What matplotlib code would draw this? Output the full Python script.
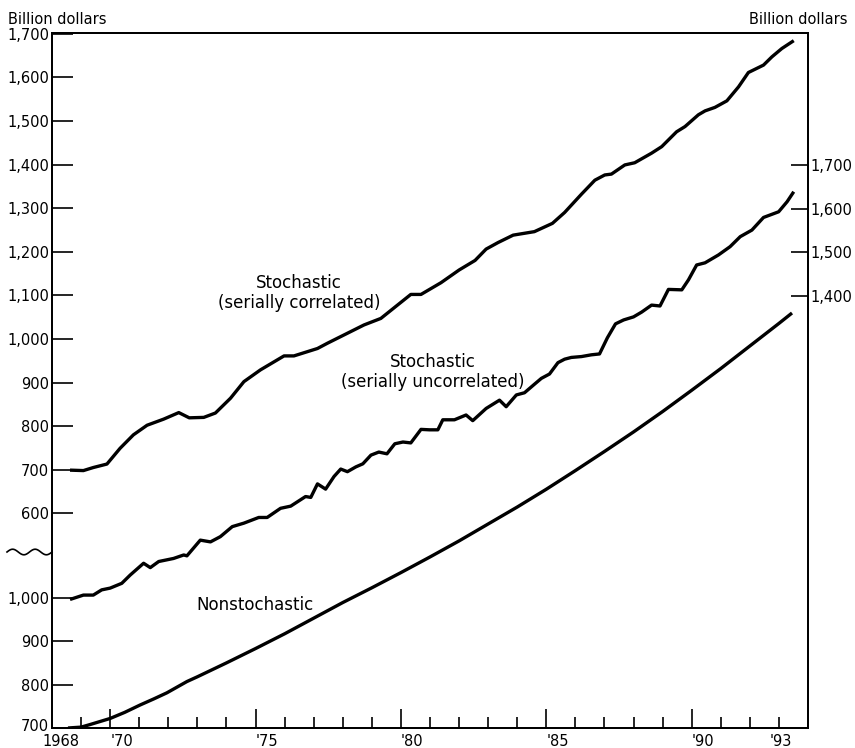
import numpy as np
import matplotlib
matplotlib.use("Agg")
import matplotlib.pyplot as plt
from matplotlib.transforms import ScaledTranslation

# Stochastic, serially correlated errors (left upper scale)
corr_years = [1968.62, 1969.08, 1969.42, 1969.89, 1970.34, 1970.80, 1971.27, 1971.84,
              1972.36, 1972.72, 1973.22, 1973.62, 1974.14, 1974.60, 1975.17, 1975.98,
              1976.32, 1977.13, 1977.47, 1978.16, 1978.73, 1979.31, 1979.89, 1980.34,
              1980.69, 1981.38, 1982.00, 1982.55, 1982.93, 1983.34, 1983.86, 1984.59,
              1985.21, 1985.63, 1986.21, 1986.67, 1987.01, 1987.24, 1987.70, 1988.04,
              1988.62, 1988.97, 1989.48, 1989.77, 1990.23, 1990.46, 1990.80, 1991.21,
              1991.61, 1991.95, 1992.47, 1992.76, 1993.10, 1993.51]
corr_vals = [699, 698, 705, 713, 749, 780, 802, 816,
             831, 819, 820, 830, 864, 902, 929, 961,
             961, 978, 990, 1013, 1032, 1047, 1078, 1102,
             1102, 1129, 1158, 1180, 1206, 1221, 1238, 1246,
             1265, 1290, 1332, 1364, 1376, 1378, 1399, 1404,
             1426, 1441, 1475, 1487, 1514, 1523, 1531, 1546,
             1578, 1611, 1628, 1647, 1666, 1684]

# Stochastic, serially uncorrelated errors (right scale)
uncorr_years = [1968.62, 1969.08, 1969.42, 1969.71, 1970.00, 1970.40, 1970.69, 1971.15,
                1971.38, 1971.67, 1972.18, 1972.53, 1972.64, 1973.10, 1973.45, 1973.79,
                1974.20, 1974.60, 1975.11, 1975.40, 1975.86, 1976.21, 1976.72, 1976.90,
                1977.13, 1977.41, 1977.70, 1977.93, 1978.16, 1978.45, 1978.69, 1978.97,
                1979.24, 1979.52, 1979.79, 1980.07, 1980.34, 1980.69, 1980.98, 1981.27,
                1981.44, 1981.84, 1982.24, 1982.47, 1982.93, 1983.39, 1983.62, 1983.97,
                1984.25, 1984.60, 1984.83, 1985.11, 1985.40, 1985.63, 1985.86, 1986.21,
                1986.55, 1986.83, 1987.10, 1987.38, 1987.66, 1988.00, 1988.28, 1988.62,
                1988.91, 1989.20, 1989.66, 1989.89, 1990.17, 1990.46, 1990.92, 1991.32,
                1991.67, 1992.07, 1992.47, 1992.99, 1993.28, 1993.51]
uncorr_vals = [704, 714, 714, 726, 730, 741, 760, 787,
               777, 791, 798, 806, 804, 840, 836, 848,
               871, 879, 892, 892, 913, 918, 940, 938,
               969, 957, 986, 1003, 997, 1008, 1015, 1035,
               1042, 1038, 1061, 1065, 1063, 1094, 1093, 1093,
               1116, 1116, 1127, 1114, 1142, 1161, 1146, 1173,
               1178, 1198, 1211, 1221, 1247, 1255, 1259, 1261,
               1265, 1267, 1304, 1336, 1345, 1352, 1363, 1379,
               1377, 1415, 1414, 1437, 1471, 1476, 1494, 1513,
               1536, 1551, 1580, 1593, 1616, 1639]

# Nonstochastic solution (left lower scale)
base_years = [1968.55, 1969.00, 1969.31, 1970.00, 1970.50, 1971.03, 1971.50, 1971.95,
              1972.64, 1973.00, 1974.00, 1975.00, 1976.00, 1977.00, 1978.00, 1979.00,
              1980.00, 1981.00, 1982.00, 1983.00, 1984.00, 1985.00, 1986.00, 1987.00,
              1988.00, 1989.00, 1990.00, 1991.00, 1992.00, 1993.00, 1993.45]
base_vals = [700, 702, 708, 722, 736, 753, 767, 781,
             807, 818, 850, 883, 917, 953, 989, 1023,
             1058, 1094, 1131, 1170, 1209, 1250, 1293, 1337,
             1382, 1429, 1478, 1528, 1580, 1632, 1656]

left_upper_ticks = [600, 700, 800, 900, 1000, 1100, 1200, 1300, 1400, 1500, 1600, 1700]
left_lower_ticks = [700, 800, 900, 1000]
right_ticks = [1400, 1500, 1600, 1700]
year_ticks = [1968, 1970, 1975, 1980, 1985, 1990, 1993]
year_labels = ["1968", "'70", "'75", "'80", "'85", "'90", "'93"]

plt.rcParams['font.family'] = ['DejaVu Sans']
FS = 10.5
LFS = 12
LW = 2.4

fig = plt.figure(figsize=(8.55, 7.48), dpi=100)
ax = fig.add_axes([52 / 855, 20 / 748, 756 / 855, 695 / 748])
ax_up = ax.twinx()
ax_rt = ax.twinx()

ax.set_xlim(1968, 1994)
ax.set_ylim(700, 2301)
ax_up.set_ylim(107.6, 1701.6)
ax_rt.set_ylim(409.2, 2003)

ax.plot(base_years, base_vals, color='black', lw=LW, solid_capstyle='butt')
ax_up.plot(corr_years, corr_vals, color='black', lw=LW, solid_capstyle='butt')
ax_rt.plot(uncorr_years, uncorr_vals, color='black', lw=LW, solid_capstyle='butt')

def fmt(v):
    return f"{v:,}"

for a in (ax, ax_up, ax_rt):
    for s in a.spines.values():
        s.set_linewidth(1.2)

ax.set_yticks(left_lower_ticks)
ax.set_yticklabels([fmt(v) for v in left_lower_ticks])
ax.tick_params(axis='y', direction='in', length=15, width=1.2, labelsize=FS, pad=2)
# lift the bottom label a little so it clears the year labels
low = ax.yaxis.get_major_ticks()[0].label1
low.set_transform(low.get_transform() + ScaledTranslation(0, 2 / 72, fig.dpi_scale_trans))

ax_up.yaxis.tick_left()
ax_up.set_yticks(left_upper_ticks)
ax_up.set_yticklabels([fmt(v) for v in left_upper_ticks])
ax_up.tick_params(axis='y', direction='in', length=15, width=1.2, labelsize=FS, pad=2,
                  left=True, labelleft=True, right=False, labelright=False)

ax_rt.set_yticks(right_ticks)
ax_rt.set_yticklabels([fmt(v) for v in right_ticks])
ax_rt.tick_params(axis='y', direction='in', length=12, width=1.2, labelsize=FS, pad=2)

ax.set_xticks(year_ticks)
ax.set_xticklabels(year_labels, ha='left')
ax.set_xticks(np.arange(1969, 1994), minor=True)
ax.tick_params(axis='x', which='major', direction='in', length=14, width=1.2,
               labelsize=FS, pad=4)
ax.tick_params(axis='x', which='minor', direction='in', length=8, width=1.2)
xt = ax.xaxis.get_major_ticks()
xt[0].tick1line.set_markersize(0)
xt[-1].tick1line.set_markersize(8)
for t in (xt[0], xt[-1]):
    lab = t.label1
    lab.set_transform(lab.get_transform() + ScaledTranslation(-7 / 72, 0, fig.dpi_scale_trans))

# unit captions
fig.text(8 / 855, 1 - 19 / 748, "Billion dollars", fontsize=FS, va='center', ha='left')
fig.text(847 / 855, 1 - 20 / 748, "Billion dollars", fontsize=FS, va='center', ha='right')

# scale break on the left axis
bx = np.linspace(-45 / 756, 0, 60)
by = (728 - 552) / 695 + 0.004 * np.sin((bx - bx[0]) / (bx[-1] - bx[0]) * 4 * np.pi)
ax.plot(bx, by, color='black', lw=1.2, transform=ax.transAxes, clip_on=False)

# curve labels
ax_up.text(1976.5, 1700 - (283 - 33.7) / 0.436, "Stochastic", fontsize=LFS, ha='center', va='center')
ax_up.text(1976.5, 1700 - (303 - 33.7) / 0.436, "(serially correlated)", fontsize=LFS,
           ha='center', va='center')
ax_rt.text(1981.1, 1400 - (362 - 296) / 0.436, "Stochastic", fontsize=LFS, ha='center', va='center')
ax_rt.text(1981.1, 1400 - (382 - 296) / 0.436, "(serially uncorrelated)", fontsize=LFS,
           ha='center', va='center')
ax.text(1972.95, 700 + (728 - 605) / 0.434, "Nonstochastic", fontsize=LFS, ha='left', va='center')

fig.savefig("out.png", dpi=100)
